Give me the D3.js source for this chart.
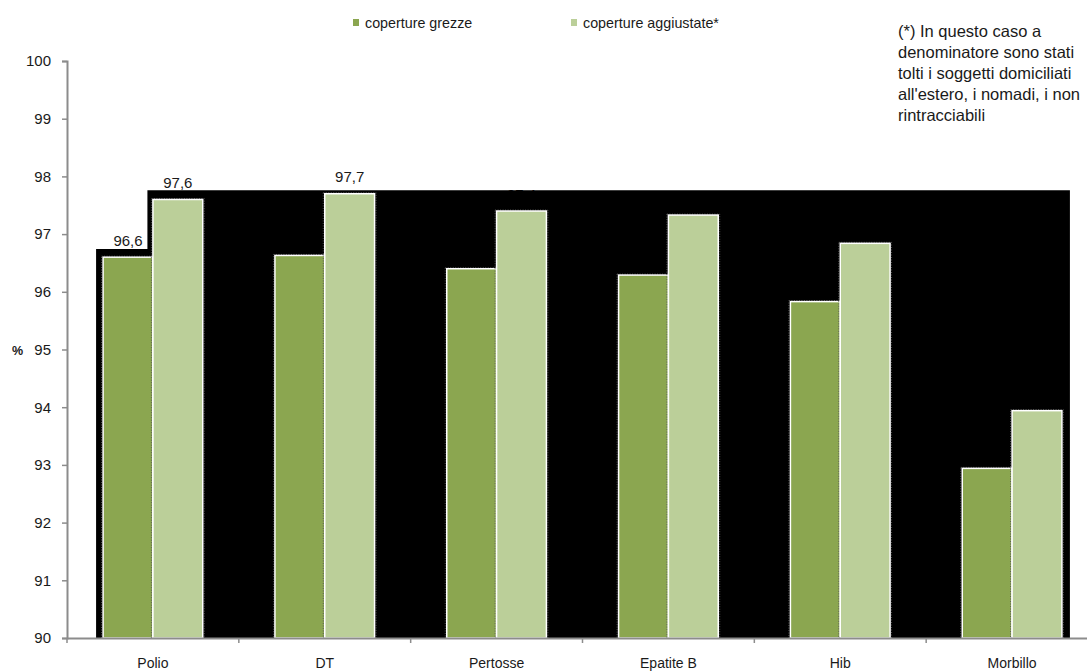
<!DOCTYPE html>
<html>
<head>
<meta charset="utf-8">
<script src="https://cdn.jsdelivr.net/npm/d3@7"></script>
<style>
  html, body { margin: 0; padding: 0; background: #fff; }
  svg { display: block; font-family: "Liberation Sans", Arial, sans-serif; }
</style>
</head>
<body>
<svg id="chart" width="1087" height="671"></svg>
<script>
// Vaccine coverage: raw vs adjusted percentages
const categories = ["Polio", "DT", "Pertosse", "Epatite  B", "Hib", "Morbillo"];
const seriesNames = ["coperture grezze", "coperture aggiustate*"];
const grezze = [96.6, 96.63, 96.4, 96.29, 95.83, 92.94];
const aggiustate = [97.6, 97.7, 97.4, 97.33, 96.84, 93.94];
const yTicks = [90, 91, 92, 93, 94, 95, 96, 97, 98, 99, 100];
// value labels shown on the chart (series index, category index, text)
const valueLabels = [
  { s: 0, c: 0, text: "96,6" },
  { s: 1, c: 0, text: "97,6" },
  { s: 1, c: 1, text: "97,7" },
  { s: 1, c: 2, text: "97,4" }
];
// levels of the dark backdrop behind the plot
const backdropHigh = 97.76;
const backdropLow = 96.74;
const noteLines = [
  "(*) In questo caso a",
  "denominatore sono stati",
  "tolti i soggetti domiciliati",
  "all'estero, i nomadi, i non",
  "rintracciabili"
];

(function draw() {
  const colors = ["#8BA650", "#BBCF99"];
  const series = [grezze, aggiustate];
  const ink = "#1a1a1a";

  const svg = d3.select("#chart");
  const pLeft = 67, pBottom = 638, pTop = 61, pRight = 1098;

  const x = d3.scaleBand().domain(categories).range([pLeft, pRight]).paddingInner(0.42).paddingOuter(0.21);
  const xs = d3.scaleBand().domain([0, 1]).range([0, x.bandwidth()]);
  const y = d3.scaleLinear().domain([90, 100]).range([pBottom, pTop]);

  // value labels (partly overlapped by the backdrop)
  svg.append("g").selectAll("text").data(valueLabels).join("text")
    .attr("x", d => x(categories[d.c]) + xs(d.s) + xs.bandwidth() / 2)
    .attr("y", d => y(series[d.s][d.c]) - 11.5)
    .attr("text-anchor", "middle")
    .attr("font-size", 15)
    .attr("fill", ink)
    .text(d => d.text);

  // dark backdrop
  const bx0 = x(categories[0]) - 7;
  const bxStep = x(categories[0]) + xs(1) - 5.5;
  const bx1 = x(categories[categories.length - 1]) + x.bandwidth() + 8;
  svg.append("path")
    .attr("d", d3.line()([
      [bx0, y(90)], [bx0, y(backdropLow)], [bxStep, y(backdropLow)],
      [bxStep, y(backdropHigh)], [bx1, y(backdropHigh)], [bx1, y(90)]
    ]) + "Z")
    .attr("fill", "#000");

  // bars
  const groups = svg.append("g").selectAll("g").data(categories).join("g")
    .attr("transform", d => `translate(${x(d)},0)`);

  groups.each(function(cat, ci) {
    const g = d3.select(this);
    [0, 1].forEach(si => {
      const v = series[si][ci];
      const bx = xs(si), bw = xs.bandwidth();
      // faint dotted outline
      g.append("rect")
        .attr("x", bx - 1.5).attr("y", y(v) - 1)
        .attr("width", bw + 3).attr("height", y(90) - y(v) + 1)
        .attr("fill", "none").attr("stroke", "#5a5a5a")
        .attr("stroke-width", 1).attr("stroke-dasharray", "1,1.5");
      g.append("rect")
        .attr("x", bx).attr("y", y(v))
        .attr("width", bw).attr("height", y(90) - y(v))
        .attr("fill", colors[si])
        .attr("stroke", "#fff").attr("stroke-width", 1.5);
    });
  });

  // axes
  const yAxis = svg.append("g").attr("transform", `translate(${pLeft},0)`)
    .call(d3.axisLeft(y).tickValues(yTicks).tickSize(5).tickPadding(11).tickFormat(d3.format("d")));
  yAxis.select(".domain").attr("stroke", "#8c8c8c").attr("stroke-width", 2);
  yAxis.selectAll(".tick line").attr("stroke", "#8c8c8c").attr("stroke-width", 1.5);
  yAxis.selectAll(".tick text").attr("font-size", 15).attr("fill", ink).attr("font-family", "'Liberation Sans', Arial, sans-serif");

  const xAxis = svg.append("g").attr("transform", `translate(0,${pBottom})`)
    .call(d3.axisBottom(x).tickSize(0).tickPadding(20));
  xAxis.select(".domain").attr("stroke", "#8c8c8c").attr("stroke-width", 2);
  xAxis.selectAll(".tick text").attr("font-size", 14).attr("fill", ink).attr("font-family", "'Liberation Sans', Arial, sans-serif");
  // category boundary ticks
  const bounds = d3.range(categories.length + 1).map(i => pLeft + i * x.step());
  svg.append("g").selectAll("line").data(bounds).join("line")
    .attr("x1", d => d).attr("x2", d => d)
    .attr("y1", pBottom).attr("y2", pBottom + 5)
    .attr("stroke", "#8c8c8c").attr("stroke-width", 1.5);

  // y-axis title
  svg.append("text").attr("x", 17.5).attr("y", y(95) + 5)
    .attr("text-anchor", "middle").attr("font-size", 12.5).attr("font-weight", "bold")
    .attr("fill", ink).text("%");

  // legend
  const legendX = [353, 571];
  const legend = svg.append("g").selectAll("g").data(seriesNames).join("g")
    .attr("transform", (d, i) => `translate(${legendX[i]},19)`);
  legend.append("rect").attr("width", 6).attr("height", 7).attr("fill", (d, i) => colors[i]);
  legend.append("text").attr("x", 12).attr("y", 9)
    .attr("font-size", 14.3).attr("fill", ink).text(d => d);

  // note
  svg.append("g").selectAll("text").data(noteLines).join("text")
    .attr("x", 898).attr("y", (d, i) => 37 + i * 21)
    .attr("font-size", 16.5).attr("fill", ink).text(d => d);
})();
</script>
</body>
</html>
